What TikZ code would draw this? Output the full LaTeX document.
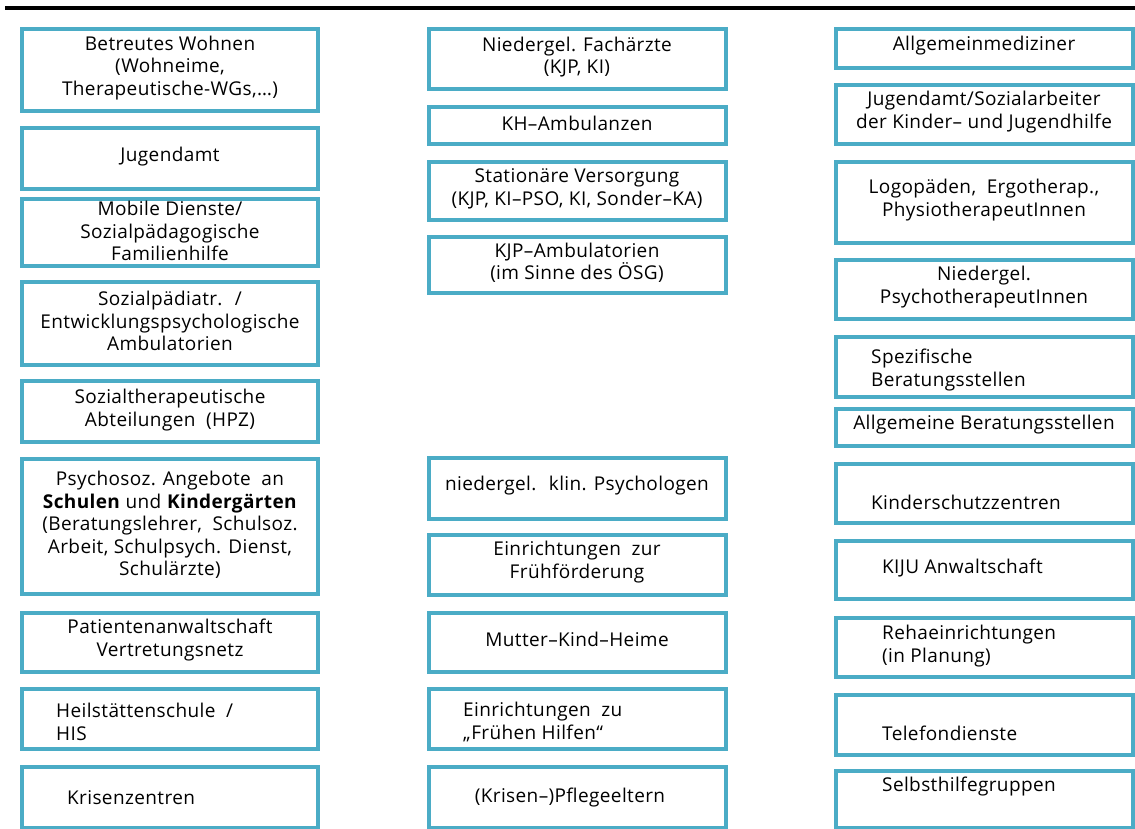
\documentclass[tikz,border=0pt]{standalone}
\usepackage{fontspec}
\setmainfont{Open Sans}[LetterSpace=2]
\definecolor{boxblue}{HTML}{4BACC6}
\begin{document}
\begin{tikzpicture}[x=1pt,y=-1pt,
  box/.style={draw=boxblue,line width=4pt,fill=white,inner sep=0pt,rectangle},
  txt/.style={font=\fontsize{19}{22.5}\selectfont,inner sep=0pt,align=center,text=black},
  ltxt/.style={font=\fontsize{19}{22.5}\selectfont,inner sep=0pt,align=left,anchor=west,text=black}]
\useasboundingbox (0,0) rectangle (1135,828);
\newcommand{\bx}[5]{%
  \pgfmathsetmacro{\bw}{#4-#2-4}\pgfmathsetmacro{\bh}{#5-#3-4}%
  \node[box,minimum width=\bw pt,minimum height=\bh pt] (#1) at ({(#2+#4)/2},{(#3+#5)/2}) {};}
% top rule
\coordinate (ruleL) at (5,8);
\coordinate (ruleR) at (1135,8);
\draw[line width=3.5pt] (ruleL) -- (ruleR);
% column 1
\bx{a1}{20}{27}{320}{113}
\bx{a2}{20}{126}{320}{191}
\bx{a3}{20}{197}{320}{268}
\bx{a4}{20}{280}{320}{367}
\bx{a5}{20}{379}{320}{444}
\bx{a6}{20}{457}{320}{596}
\bx{a7}{20}{611}{320}{674}
\bx{a8}{20}{687}{320}{751}
\bx{a9}{20}{765}{320}{830}
% column 2
\bx{b1}{427}{27}{728}{91}
\bx{b2}{427}{105}{728}{146}
\bx{b3}{427}{160}{728}{222}
\bx{b4}{427}{235}{728}{295}
\bx{b5}{427}{456}{728}{521}
\bx{b6}{427}{533}{728}{597}
\bx{b7}{427}{611}{728}{674}
\bx{b8}{427}{687}{728}{751}
\bx{b9}{427}{765}{728}{830}
% column 3
\bx{c1}{834}{27}{1135}{70}
\bx{c2}{834}{83}{1135}{146}
\bx{c3}{834}{160}{1135}{245}
\bx{c4}{834}{258}{1135}{321}
\bx{c5}{834}{335}{1135}{399}
\bx{c6}{834}{407}{1135}{448}
\bx{c7}{834}{462}{1135}{525}
\bx{c8}{834}{539}{1135}{601}
\bx{c9}{834}{616}{1135}{679}
\bx{c10}{834}{693}{1135}{757}
\bx{c11}{834}{769}{1135}{830}
% texts column 1
\node[txt] (ta1) at (170,68) {Betreutes Wohnen\\(Wohneime,\\Therapeutische-WGs,…)};
\node[txt] (ta2) at (170,157) {Jugendamt};
\node[txt] (ta3) at (170,231) {Mobile Dienste/\\Sozialpädagogische\\Familienhilfe};
\node[txt] (ta4) at (170,321) {Sozialpädiatr. \ /\\Entwicklungspsychologische\\Ambulatorien};
\node[txt] (ta5) at (170,410) {Sozialtherapeutische\\Abteilungen \ (HPZ)};
\node[txt] (ta6) at (170,525) {Psychosoz. Angebote \ an\\\textbf{Schulen} und \textbf{Kindergärten}\\(Beratungslehrer, \ Schulsoz.\\Arbeit, Schulpsych. Dienst,\\Schulärzte)};
\node[txt] (ta7) at (170,640) {Patientenanwaltschaft\\Vertretungsnetz};
\node[ltxt] (ta8) at (56,722) {Heilstättenschule \ /\\HIS};
\node[ltxt] (ta9) at (67,798) {Krisenzentren};
% texts column 2
\node[txt] (tb1) at (577,57) {Niedergel. Fachärzte\\(KJP, KI)};
\node[txt] (tb2) at (577,123) {KH–Ambulanzen};
\node[txt] (tb3) at (577,189) {Stationäre Versorgung\\(KJP, KI–PSO, KI, Sonder–KA)};
\node[txt] (tb4) at (577,263) {KJP–Ambulatorien\\(im Sinne des ÖSG)};
\node[txt] (tb5) at (577,486) {niedergel. \ klin. Psychologen};
\node[txt] (tb6) at (577,562) {Einrichtungen \ zur\\Frühförderung};
\node[txt] (tb7) at (577,639) {Mutter–Kind–Heime};
\node[ltxt] (tb8) at (463,722) {Einrichtungen \ zu\\„Frühen Hilfen“};
\node[txt] (tb9) at (570,798) {(Krisen–)Pflegeeltern};
% texts column 3
\node[txt] (tc1) at (984,46) {Allgemeinmediziner};
\node[txt] (tc2) at (984,112) {Jugendamt/Sozialarbeiter\\der Kinder– und Jugendhilfe};
\node[txt] (tc3) at (984,200) {Logopäden, \ Ergotherap.,\\PhysiotherapeutInnen};
\node[txt] (tc4) at (984,287) {Niedergel.\\PsychotherapeutInnen};
\node[ltxt] (tc5) at (871,370) {Spezifische\\Beratungsstellen};
\node[txt] (tc6) at (984,425) {Allgemeine Beratungsstellen};
\node[ltxt] (tc7) at (871,502) {Kinderschutzzentren};
\node[ltxt] (tc8) at (882,568) {KIJU Anwaltschaft};
\node[ltxt] (tc9) at (882,646) {Rehaeinrichtungen\\(in Planung)};
\node[ltxt] (tc10) at (882,733) {Telefondienste};
\node[ltxt] (tc11) at (882,787) {Selbsthilfegruppen};
\end{tikzpicture}
\end{document}
